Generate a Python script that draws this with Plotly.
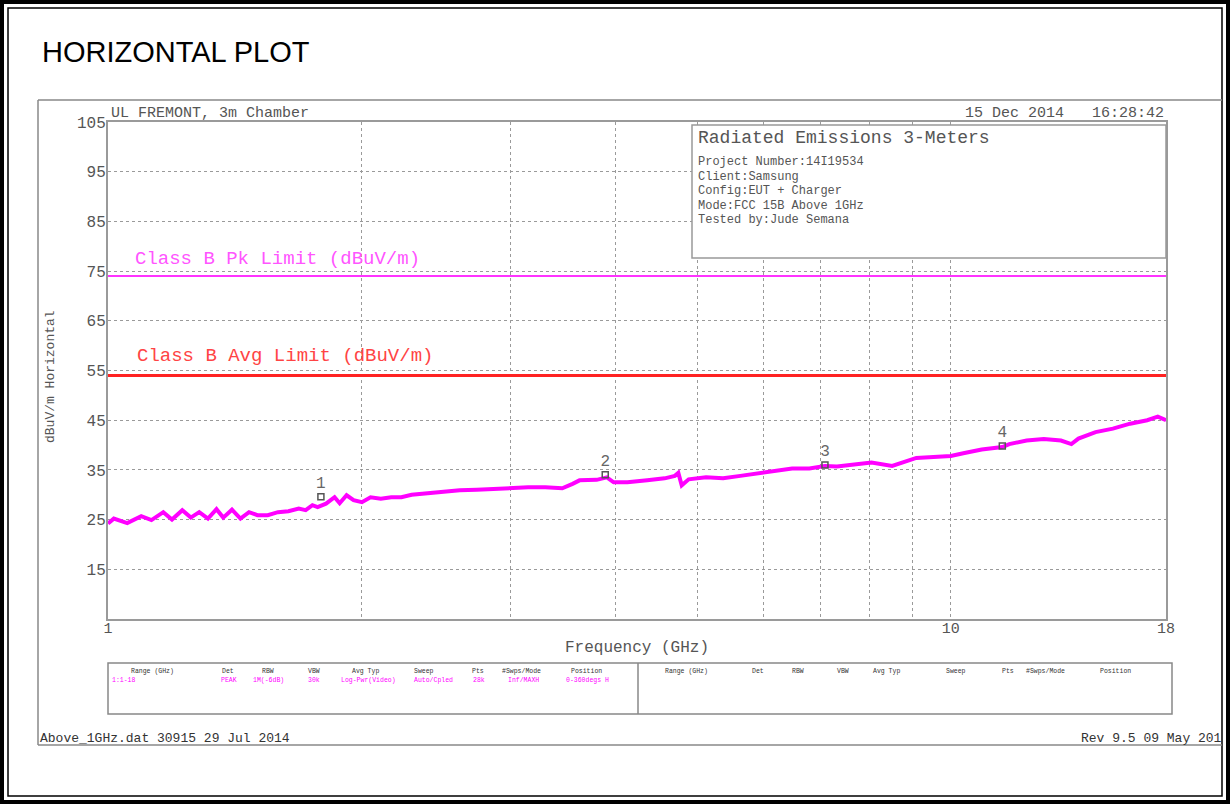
import plotly.graph_objects as go

# ---------------- data ----------------
freq_ghz = [1.000, 1.016, 1.054, 1.095, 1.126, 1.163, 1.191, 1.225, 1.254, 1.283,
            1.314, 1.345, 1.370, 1.403, 1.436, 1.470, 1.504, 1.547, 1.591, 1.637,
            1.684, 1.716, 1.748, 1.773, 1.814, 1.857, 1.883, 1.919, 1.956, 2.001,
            2.049, 2.107, 2.168, 2.229, 2.292, 2.379, 2.494, 2.614, 2.738, 2.870,
            3.007, 3.151, 3.302, 3.459, 3.558, 3.626, 3.800, 3.907, 3.981, 4.133,
            4.363, 4.575, 4.705, 4.750, 4.794, 4.886, 5.123, 5.368, 5.627, 5.899,
            6.183, 6.482, 6.794, 7.088, 7.327, 7.679, 8.051, 8.519, 8.845, 9.100,
            9.537, 9.998, 10.38, 10.88, 11.51, 11.73, 12.30, 12.89, 13.51, 13.90,
            14.17, 14.85, 15.57, 16.32, 17.10, 17.60, 18.00]
level_dbuv = [24.2, 25.2, 24.3, 25.7, 24.9, 26.5, 25.0, 26.9, 25.4, 26.5,
              25.2, 27.1, 25.4, 27.0, 25.2, 26.5, 25.9, 25.9, 26.5, 26.7,
              27.2, 26.9, 27.9, 27.5, 28.2, 29.5, 28.3, 29.9, 28.9, 28.5,
              29.5, 29.2, 29.5, 29.5, 30.0, 30.3, 30.5, 30.9, 31.0, 31.2,
              31.3, 31.5, 31.5, 31.3, 32.2, 32.9, 33.0, 33.5, 32.5, 32.5,
              32.9, 33.3, 33.8, 34.4, 31.9, 33.1, 33.5, 33.3, 33.8, 34.3,
              34.9, 35.3, 35.3, 35.8, 35.7, 36.0, 36.5, 35.8, 36.7, 37.4,
              37.6, 37.8, 38.4, 39.1, 39.6, 40.2, 40.9, 41.2, 40.9, 40.2,
              41.3, 42.6, 43.3, 44.3, 45.0, 45.7, 45.0]

marker_freq_ghz = [1.789, 3.89, 7.09, 11.51]
marker_level_dbuv = [29.6, 34.0, 36.0, 39.8]
marker_labels = ["1", "2", "3", "4"]

limit_freq_ghz = [1, 18]
pk_limit_dbuv = 74
avg_limit_dbuv = 54
pk_limit_label = "Class B Pk Limit (dBuV/m)"
avg_limit_label = "Class B Avg Limit (dBuV/m)"

y_tick_vals = [15, 25, 35, 45, 55, 65, 75, 85, 95, 105]
x_grid_vals = [1, 2, 3, 4, 5, 6, 7, 8, 9, 10, 18]
x_tick_text = ["1", "", "", "", "", "", "", "", "", "10", "18"]

info_title = "Radiated Emissions 3-Meters"
info_lines = ["Project Number:14I19534", "Client:Samsung", "Config:EUT + Charger",
              "Mode:FCC 15B Above 1GHz", "Tested by:Jude Semana"]

table_headers = ["Range (GHz)", "Det", "RBW", "VBW", "Avg Typ", "Sweep", "Pts",
                 "#Swps/Mode", "Position"]
table_values = ["1:1-18", "PEAK", "1M(-6dB)", "30k", "Log-Pwr(Video)", "Auto/Cpled",
                "28k", "Inf/MAXH", "0-360degs H"]

# ---------------- geometry helpers (pixels -> paper) ----------------
W, H = 1230, 804
L, R, T, B = 108, 1166, 122, 619


def px(x):
    return (x - L) / (R - L)


def py(y):
    return (B - y) / (B - T)


MONO = "Liberation Mono"
GRAY = "#555555"

fig = go.Figure()

# limit lines
fig.add_trace(go.Scatter(x=limit_freq_ghz, y=[pk_limit_dbuv] * 2, mode="lines",
                         line=dict(color="#FF33FF", width=2), hoverinfo="skip"))
fig.add_trace(go.Scatter(x=limit_freq_ghz, y=[avg_limit_dbuv] * 2, mode="lines",
                         line=dict(color="#FF2222", width=3), hoverinfo="skip"))

# measured trace
fig.add_trace(go.Scatter(x=freq_ghz, y=level_dbuv, mode="lines",
                         line=dict(color="#FF00FF", width=4)))

# markers
fig.add_trace(go.Scatter(x=marker_freq_ghz, y=marker_level_dbuv, mode="markers+text",
                         text=marker_labels, textposition="top center",
                         textfont=dict(family=MONO, size=16, color="#666666"),
                         marker=dict(symbol="square-open", size=6,
                                     color="#555555", line=dict(width=1.5))))

fig.update_layout(
    width=W, height=H, autosize=False,
    margin=dict(l=L, r=W - R, t=T, b=H - B),
    paper_bgcolor="white", plot_bgcolor="white",
    showlegend=False,
    font=dict(family=MONO, color=GRAY),
)

fig.update_xaxes(type="log", range=[0, 1.2552725], tickvals=x_grid_vals,
                 ticktext=x_tick_text, showgrid=True, gridcolor="#9a9a9a",
                 griddash="dot", gridwidth=1, showline=True, linecolor="#9a9a9a",
                 linewidth=2, mirror=True, ticks="", zeroline=False,
                 ticklabelstandoff=-6,
                 tickfont=dict(family=MONO, size=15, color=GRAY), automargin=False)
fig.update_yaxes(range=[5, 105], tickvals=y_tick_vals, showgrid=True,
                 gridcolor="#9a9a9a", griddash="dot", gridwidth=1, showline=True,
                 linecolor="#9a9a9a", linewidth=2, mirror=True, ticks="",
                 zeroline=False, ticklabelstandoff=-3,
                 tickfont=dict(family=MONO, size=16, color=GRAY), automargin=False)

shapes = []
# outer double border
shapes.append(dict(type="rect", xref="paper", yref="paper", x0=px(2), x1=px(1228),
                   y0=py(802), y1=py(2), line=dict(color="black", width=4)))
shapes.append(dict(type="rect", xref="paper", yref="paper", x0=px(8), x1=px(1222),
                   y0=py(796), y1=py(8), line=dict(color="black", width=1.5)))
# screenshot frame lines
for (x0, y0, x1, y1) in [(38, 100, 1222, 100), (38, 100, 38, 745), (38, 745, 1222, 745)]:
    shapes.append(dict(type="line", xref="paper", yref="paper", x0=px(x0), x1=px(x1),
                       y0=py(y0), y1=py(y1), line=dict(color="#888888", width=1.5)))
# info box
shapes.append(dict(type="rect", xref="paper", yref="paper", x0=px(692), x1=px(1166),
                   y0=py(258), y1=py(125), fillcolor="white",
                   line=dict(color="#999999", width=1.5), layer="above"))
# settings table
shapes.append(dict(type="rect", xref="paper", yref="paper", x0=px(108), x1=px(1172),
                   y0=py(714), y1=py(663), line=dict(color="#888888", width=1.5)))
shapes.append(dict(type="line", xref="paper", yref="paper", x0=px(638), x1=px(638),
                   y0=py(714), y1=py(663), line=dict(color="#888888", width=1.5)))
fig.update_layout(shapes=shapes)

ann = []


def text(x, y, s, size, color=GRAY, xanchor="left", family=MONO, angle=0):
    ann.append(dict(xref="paper", yref="paper", x=px(x), y=py(y), text=s,
                    showarrow=False, xanchor=xanchor, yanchor="middle",
                    textangle=angle, font=dict(family=family, size=size, color=color)))


text(40, 52, "HORIZONTAL PLOT", 29, color="black", family="Liberation Sans")
text(109, 113, "UL FREMONT, 3m Chamber", 15)
text(963, 113, "15 Dec 2014", 15)
text(1166, 113, "16:28:42", 15, xanchor="right")
text(696, 138, info_title, 18)
for i, line in enumerate(info_lines):
    text(696, 162 + i * 14.6, line, 12)
text(133, 259, pk_limit_label, 19, color="#FF55FF")
text(135, 356, avg_limit_label, 19, color="#FF4444")
text(50, 377, "dBuV/m Horizontal", 13, xanchor="center", angle=-90)
text(637, 648, "Frequency (GHz)", 16, xanchor="center")

hdr_left = [152, 228, 268, 314, 365, 424, 478, 521, 586]
val_left = [124, 229, 268, 314, 368, 433, 479, 523, 587]
hdr_right = [686, 758, 798, 843, 886, 956, 1008, 1045, 1115]
for h, xl, xr in zip(table_headers, hdr_left, hdr_right):
    text(xl, 671, h, 6.5, color="#333333", xanchor="center")
    text(xr, 671, h, 6.5, color="#333333", xanchor="center")
for v, xv in zip(table_values, val_left):
    text(xv, 680, v, 6.5, color="#FF00FF", xanchor="center")

text(38, 738, "Above_1GHz.dat 30915 29 Jul 2014", 13, color="#333333")
text(1224, 738, "Rev 9.5 09 May 201", 13, color="#333333", xanchor="right")

fig.update_layout(annotations=ann)

fig.write_html("out.html", config={"displayModeBar": False},
               post_script="document.body.style.margin='0';document.body.style.overflow='hidden';")
